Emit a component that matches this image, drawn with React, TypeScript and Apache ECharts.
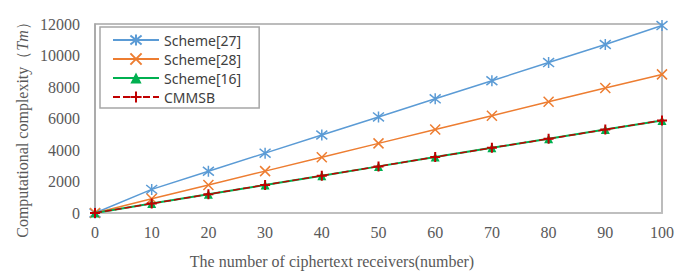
import React, { useEffect, useRef } from "react";
import * as echarts from "echarts";

const receivers = [0, 10, 20, 30, 40, 50, 60, 70, 80, 90, 100];
const scheme27 = [0, 1500, 2650, 3800, 4950, 6100, 7250, 8400, 9550, 10700, 11900];
const scheme28 = [0, 900, 1780, 2660, 3540, 4420, 5300, 6180, 7060, 7940, 8800];
const scheme16 = [0, 600, 1190, 1780, 2370, 2960, 3550, 4140, 4710, 5300, 5880];
const cmmsb = [0, 600, 1190, 1780, 2370, 2960, 3550, 4140, 4710, 5300, 5880];
const seriesNames = ["Scheme[27]", "Scheme[28]", "Scheme[16]", "CMMSB"];
const yTicks = { min: 0, max: 12000, interval: 2000 };
const xTicks = { min: 0, max: 100, interval: 10 };

const pair = (ys: number[]) => receivers.map((x, i) => [x, ys[i]]);

export default function App() {
  const ref = useRef<HTMLDivElement>(null);
  useEffect(() => {
    if (!ref.current) return;
    const chart = echarts.init(ref.current, null, { renderer: "svg" });
    const serif = "'Liberation Serif', 'Times New Roman', serif";
    const labelColor = "#595959";
    chart.setOption({
      animation: false,
      grid: {
        left: 95,
        right: 22,
        top: 24,
        bottom: 67,
        show: true,
        borderColor: "#a6a6a6",
        borderWidth: 1.5,
      },
      legend: {
        left: 100,
        top: 27,
        orient: "vertical",
        data: seriesNames,
        itemWidth: 46,
        itemHeight: 14,
        itemGap: 5,
        padding: [6, 18, 4, 12],
        borderColor: "#a6a6a6",
        borderWidth: 1.5,
        backgroundColor: "#fff",
        textStyle: { fontFamily: "'Noto Sans', sans-serif", fontSize: 14, color: "#404040" },
      },
      xAxis: {
        type: "value",
        min: xTicks.min,
        max: xTicks.max,
        interval: xTicks.interval,
        axisLine: { show: true, lineStyle: { color: "#bfbfbf", width: 2 } },
        axisTick: { show: false },
        splitLine: { show: false },
        axisLabel: { fontFamily: serif, fontSize: 16, color: labelColor, margin: 11 },
      },
      yAxis: {
        type: "value",
        min: yTicks.min,
        max: yTicks.max,
        interval: yTicks.interval,
        axisLine: { show: true, lineStyle: { color: "#a6a6a6", width: 1.5 } },
        axisTick: { show: false },
        splitLine: { show: false },
        axisLabel: {
          fontFamily: serif,
          fontSize: 16,
          color: labelColor,
          margin: 15,
          formatter: (v: number) => String(v),
        },
      },
      graphic: [
        {
          type: "text",
          x: 22,
          y: 126,
          rotation: Math.PI / 2,
          style: {
            text: "Computational complexity（{i|Tm}）",
            rich: { i: { fontStyle: "italic", fontFamily: serif, fontSize: 16, fill: labelColor } },
            font: "16px 'Liberation Serif', serif",
            fill: labelColor,
            align: "center",
            verticalAlign: "middle",
          },
        },
        {
          type: "text",
          x: 332,
          y: 261,
          style: {
            text: "The number of ciphertext receivers(number)",
            font: "16px 'Liberation Serif', serif",
            fill: labelColor,
            align: "center",
            verticalAlign: "middle",
          },
        },
      ],
      series: [
        {
          name: seriesNames[0],
          type: "line",
          data: pair(scheme27),
          symbol: "path://M5,0L5,10M1,1L9,9M1,9L9,1",
          symbolSize: 11,
          lineStyle: { color: "#5b9bd5", width: 1.5 },
          itemStyle: { color: "#5b9bd5", borderColor: "#5b9bd5", borderWidth: 1.5 },
          z: 2,
        },
        {
          name: seriesNames[1],
          type: "line",
          data: pair(scheme28),
          symbol: "path://M0,0L10,10M0,10L10,0",
          symbolSize: 10,
          lineStyle: { color: "#ed7d31", width: 1.5 },
          itemStyle: { color: "#ed7d31", borderColor: "#ed7d31", borderWidth: 1.5 },
          z: 3,
        },
        {
          name: seriesNames[2],
          type: "line",
          data: pair(scheme16),
          symbol: "triangle",
          symbolSize: 9,
          lineStyle: { color: "#00b050", width: 2 },
          itemStyle: { color: "#00b050", borderWidth: 0 },
          z: 4,
        },
        {
          name: seriesNames[3],
          type: "line",
          data: pair(cmmsb),
          symbol: "path://M5,0L5,10M0,5L10,5",
          symbolSize: 10,
          lineStyle: { color: "#c00000", width: 1.5, type: [7, 3] },
          itemStyle: { color: "#c00000", borderColor: "#c00000", borderWidth: 2 },
          z: 5,
        },
      ],
    });
    return () => chart.dispose();
  }, []);
  return <div ref={ref} style={{ width: 684, height: 280, marginLeft: -8, marginTop: -8 }} />;
}
